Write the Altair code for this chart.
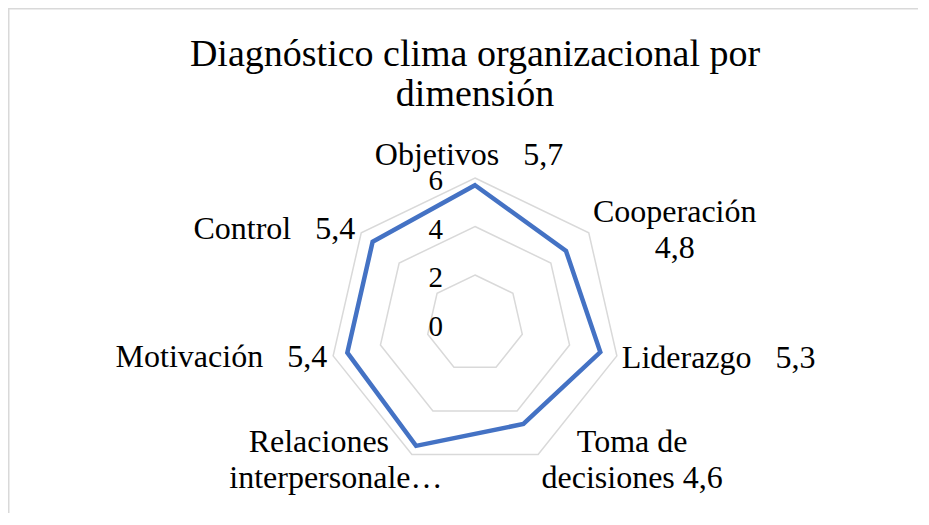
import altair as alt
import pandas as pd

# ---------------- data ----------------
categories = ["Objetivos", "Cooperación", "Liderazgo", "Toma de decisiones",
              "Relaciones interpersonales", "Motivación", "Control"]
values = [5.7, 4.8, 5.3, 4.6, 5.6, 5.4, 5.4]
value_text = ["5,7", "4,8", "5,3", "4,6", "5,6", "5,4", "5,4"]
# data labels as they are displayed (wrapped / truncated as in the picture)
NB = "\u00a0"
label_lines = [
    ["Objetivos" + NB * 3 + "5,7"],
    ["Cooperación", "4,8"],
    ["Liderazgo" + NB * 3 + "5,3"],
    ["Toma de", "decisiones 4,6"],
    ["Relaciones", "interpersonale…"],
    ["Motivación" + NB * 3 + "5,4"],
    ["Control" + NB * 3 + "5,4"],
]
ticks = [0, 2, 4, 6]
title_lines = ["Diagnóstico clima organizacional por", "dimensión"]

# ---------------- layout ----------------
W, H = 910, 505
CX, CY = 467.0, 315.5      # radar centre inside the view (px)
UNIT = 24.25               # px per value unit
FONT = "Liberation Serif"
LABEL_SIZE = 32
LINE_H = 36
N = len(categories)
RMAX = max(ticks)

x_dom = [-CX / UNIT, (W - CX) / UNIT]
y_dom = [-(H - CY) / UNIT, CY / UNIT]

df = pd.DataFrame({"cat": categories, "i": list(range(N)), "value": values,
                   "vtxt": value_text, "label": label_lines})
rings = pd.DataFrame([{"level": t, "i": k} for t in ticks if t > 0 for k in range(N)])
tick_df = pd.DataFrame({"tick": ticks, "tlabel": [str(t) for t in ticks]})

xs = alt.Scale(domain=x_dom, nice=False, zero=False)
ys = alt.Scale(domain=y_dom, nice=False, zero=False)
ang = f"datum.i * 2 * PI / {N}"

ring_layer = alt.Chart(rings).transform_calculate(
    th=ang
).transform_calculate(
    x="datum.level * sin(datum.th)", y="datum.level * cos(datum.th)"
).mark_line(interpolate="linear-closed", color="#d9d9d9", strokeWidth=1.5).encode(
    x=alt.X("x:Q", scale=xs, axis=None),
    y=alt.Y("y:Q", scale=ys, axis=None),
    detail="level:N",
    order="i:Q",
)

data_layer = alt.Chart(df).transform_calculate(
    th=ang
).transform_calculate(
    x="datum.value * sin(datum.th)", y="datum.value * cos(datum.th)"
).mark_line(interpolate="linear-closed", color="#4472C4", strokeWidth=4.5,
            strokeJoin="miter").encode(
    x=alt.X("x:Q", scale=xs, axis=None),
    y=alt.Y("y:Q", scale=ys, axis=None),
    order="i:Q",
)

tick_layer = alt.Chart(tick_df).transform_calculate(x="0").mark_text(
    font=FONT, fontSize=29, color="#000000", align="right", baseline="alphabetic",
    dx=-32, dy=12
).encode(
    x=alt.X("x:Q", scale=xs, axis=None),
    y=alt.Y("tick:Q", scale=ys, axis=None),
    text="tlabel:N",
)

# data-label placement relative to the outer ring vertex of each category:
# (align, dx, dy, per-line extra dx or None)
label_style = {
    "Objetivos": ("center", -6, -13, None),
    "Cooperación": ("center", 86, -11, None),
    "Liderazgo": ("left", 5, 12, None),
    "Toma de decisiones": ("center", 94, -3, None),
    "Relaciones interpersonales": ("center", -85, -3, [-8, 9]),
    "Motivación": ("right", -6, 11, None),
    "Control": ("right", -6, 6.5, None),
}


def label_base(c):
    return alt.Chart(df).transform_filter(alt.datum.cat == c).transform_calculate(
        th=ang
    ).transform_calculate(
        x=f"{RMAX} * sin(datum.th)", y=f"{RMAX} * cos(datum.th)"
    )


label_layers = []
for c in categories:
    al, dx, dy, per_line = label_style[c]
    if per_line is None:
        label_layers.append(
            label_base(c).mark_text(
                font=FONT, fontSize=LABEL_SIZE, color="#000000", align=al,
                baseline="alphabetic", dx=dx, dy=dy, lineHeight=LINE_H
            ).encode(
                x=alt.X("x:Q", scale=xs, axis=None),
                y=alt.Y("y:Q", scale=ys, axis=None),
                text="label",
            )
        )
    else:
        for k, ldx in enumerate(per_line):
            label_layers.append(
                label_base(c).transform_calculate(
                    line=f"datum.label[{k}]"
                ).mark_text(
                    font=FONT, fontSize=LABEL_SIZE, color="#000000", align=al,
                    baseline="alphabetic", dx=dx + ldx, dy=dy + k * LINE_H
                ).encode(
                    x=alt.X("x:Q", scale=xs, axis=None),
                    y=alt.Y("y:Q", scale=ys, axis=None),
                    text="line:N",
                )
            )

title_layer = alt.Chart(pd.DataFrame({"t": [title_lines]})).mark_text(
    font=FONT, fontSize=38, color="#000000", align="center", baseline="alphabetic",
    lineHeight=40
).encode(x=alt.value(CX), y=alt.value(58), text="t")

border_df = pd.DataFrame({"b": [0]})
border_top = alt.Chart(border_df).mark_rule(color="#d9d9d9", strokeWidth=1.5).encode(
    x=alt.value(0), x2=alt.value(W), y=alt.value(0.75))
border_left = alt.Chart(border_df).mark_rule(color="#d9d9d9", strokeWidth=1.5).encode(
    x=alt.value(0.75), y=alt.value(0), y2=alt.value(H))

chart = alt.layer(
    border_top, border_left, ring_layer, data_layer, tick_layer, *label_layers, title_layer
).properties(
    width=W, height=H, padding=0,
    autosize=alt.AutoSizeParams(type="none"),
    background="#ffffff",
).configure_view(stroke=None)

chart.save("out.html", embed_options={"renderer": "svg", "actions": False})
